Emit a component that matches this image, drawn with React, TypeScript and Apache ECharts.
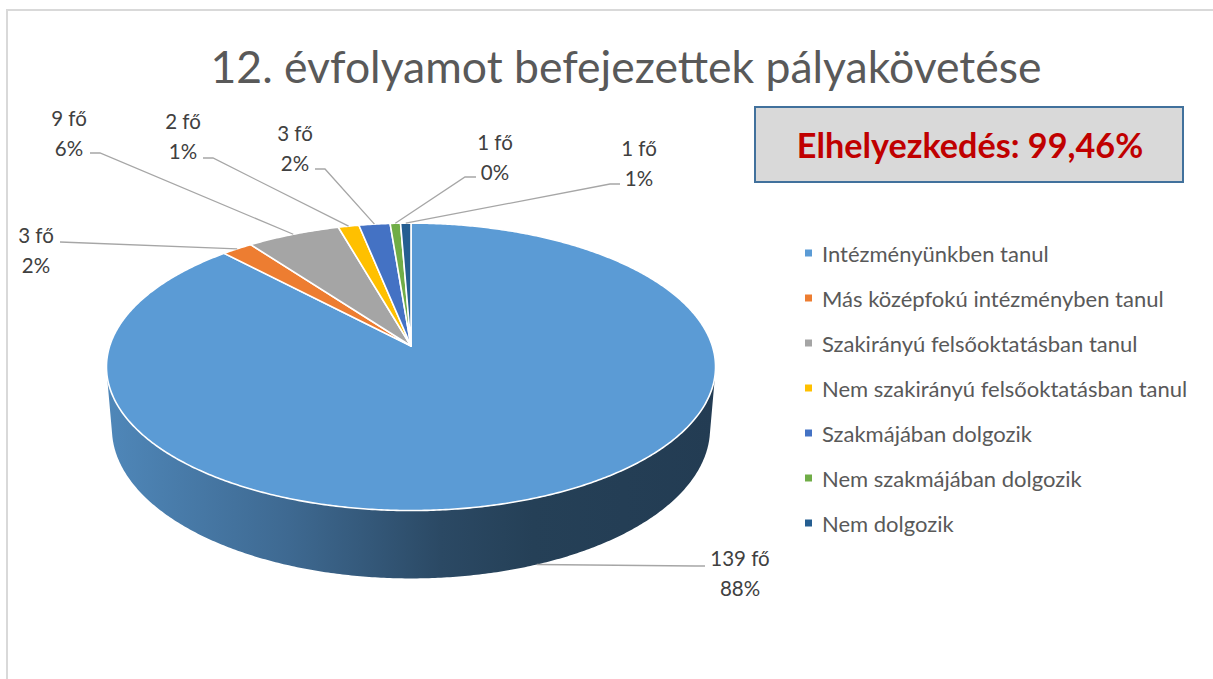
import React, { useEffect, useRef } from "react";
import * as echarts from "echarts";

// ---------- data ----------
const chartTitle = "12. évfolyamot befejezettek pályakövetése";
const categories = [
  "Intézményünkben tanul",
  "Más középfokú intézményben tanul",
  "Szakirányú felsőoktatásban tanul",
  "Nem szakirányú felsőoktatásban tanul",
  "Szakmájában dolgozik",
  "Nem szakmájában dolgozik",
  "Nem dolgozik",
];
const values = [139, 3, 9, 2, 3, 1, 1];
const percentLabels = ["88%", "2%", "6%", "1%", "2%", "0%", "1%"];
const unit = "fő";
const placementText = "Elhelyezkedés: 99,46%";

// ---------- styles / layout ----------
const colors = ["#5B9BD5", "#ED7D31", "#A5A5A5", "#FFC000", "#4472C4", "#70AD47", "#255E91"];
const FONT = "Lato, 'Open Sans', sans-serif";
// label block centre (x, y), leader attach point (lx, ly), elbow x
const labelLayout = [
  { x: 740, y: 573, lx: 705, ly: 566, ex: 695 },
  { x: 36, y: 250, lx: 60, ly: 242, ex: 60 },
  { x: 69, y: 133, lx: 90, ly: 153, ex: 100 },
  { x: 183, y: 136, lx: 203, ly: 158, ex: 213 },
  { x: 295, y: 148, lx: 315, ly: 169, ex: 325 },
  { x: 495, y: 157, lx: 476, ly: 177, ex: 465 },
  { x: 639, y: 163, lx: 620, ly: 184, ex: 610 },
];

// 3D projection of the pie
const CX = 411;
const CY = 346;
const F = 1838;
const D0 = 6.1;
const SIN = 0.467;
const COS = 0.884;
const H = 0.2335;
const Z_VIS = 1 / (D0 * COS);

function project(X: number, Y: number, Z: number): [number, number] {
  const d = D0 - (Z * COS + Y * SIN);
  return [CX + (F * X) / d, CY + (F * (Z * SIN - Y * COS)) / d];
}

function shade(hex: string, k: number) {
  const n = parseInt(hex.slice(1), 16);
  const r = Math.round(((n >> 16) & 255) * k);
  const g = Math.round(((n >> 8) & 255) * k);
  const b = Math.round((n & 255) * k);
  return `rgb(${r},${g},${b})`;
}

function sliceAngles() {
  const total = values.reduce((a, b) => a + b, 0);
  let acc = 0;
  return values.map((v) => {
    const a0 = (acc / total) * Math.PI * 2;
    acc += v;
    const a1 = (acc / total) * Math.PI * 2;
    return [a0, a1];
  });
}

function arcPoints(a0: number, a1: number, Y: number) {
  const pts: [number, number][] = [];
  const n = Math.max(2, Math.ceil((a1 - a0) / (Math.PI / 360)));
  for (let k = 0; k <= n; k++) {
    const t = a0 + ((a1 - a0) * k) / n;
    pts.push(project(Math.sin(t), Y, -Math.cos(t)));
  }
  return pts;
}

export default function App() {
  const ref = useRef<HTMLDivElement>(null);
  useEffect(() => {
    document.body.style.margin = "0";
    if (!ref.current) return;
    const chart = echarts.init(ref.current, undefined, { renderer: "svg" });
    const angles = sliceAngles();
    const visLo = Math.acos(-Z_VIS);
    const visHi = Math.PI * 2 - visLo;

    const sideSeries = categories.map((name, i) => ({
      type: "custom",
      name,
      coordinateSystem: "none",
      z: 1,
      silent: true,
      itemStyle: { color: colors[i] },
      data: [[values[i]]],
      renderItem: () => {
        const [a0, a1] = angles[i];
        const s0 = Math.max(a0, visLo);
        const s1 = Math.min(a1, visHi);
        if (s1 <= s0) return { type: "group", children: [] };
        const top = arcPoints(s0, s1, 0);
        const bot = arcPoints(s0, s1, -H).reverse();
        return {
          type: "polygon",
          shape: { points: top.concat(bot) },
          style: {
            fill: new echarts.graphic.LinearGradient(0, 0, 1, 0, [
              { offset: 0, color: shade(colors[i], 0.87) },
              { offset: 0.3, color: shade(colors[i], 0.68) },
              { offset: 0.55, color: shade(colors[i], 0.47) },
              { offset: 0.7, color: shade(colors[i], 0.41) },
              { offset: 1, color: shade(colors[i], 0.39) },
            ]),
            stroke: "none",
          },
        };
      },
    }));

    const topSeries = categories.map((name, i) => ({
      type: "custom",
      name,
      coordinateSystem: "none",
      z: 2,
      silent: true,
      itemStyle: { color: colors[i] },
      data: [[values[i]]],
      renderItem: () => {
        const [a0, a1] = angles[i];
        const pts = [project(0, 0, 0)].concat(arcPoints(a0, a1, 0));
        const m = (a0 + a1) / 2;
        const front = -Math.cos(m) > Z_VIS;
        const anchor = project(Math.sin(m), front ? -H : 0, -Math.cos(m));
        const L = labelLayout[i];
        return {
          type: "group",
          children: [
            {
              type: "polygon",
              shape: { points: pts },
              style: { fill: colors[i], stroke: "#ffffff", lineWidth: 1.6, lineJoin: "round" },
            },
            {
              type: "polyline",
              shape: { points: [anchor, [L.ex, L.ly], [L.lx, L.ly]] },
              style: { stroke: "#a6a6a6", lineWidth: 1.3, fill: "none" },
              z2: 5,
            },
            {
              type: "text",
              x: L.x,
              y: L.y,
              z2: 6,
              style: {
                text: `${values[i]} ${unit}\n${percentLabels[i]}`,
                fill: "#404040",
                fontSize: 20.5,
                fontFamily: FONT,
                lineHeight: 30,
                align: "center",
                verticalAlign: "middle",
                textAlign: "center",
                textVerticalAlign: "middle",
              },
            },
          ],
        };
      },
    }));

    const option: any = {
      animation: false,
      color: colors,
      legend: {
        data: categories,
        orient: "vertical",
        left: 805,
        top: 242,
        padding: 0,
        itemWidth: 7,
        itemHeight: 7,
        itemGap: 23,
        icon: "rect",
        selectedMode: false,
        textStyle: {
          fontSize: 22,
          lineHeight: 22,
          color: "#595959",
          fontFamily: FONT,
          padding: [0, 0, 0, 5],
        },
      },
      graphic: [
        {
          type: "rect",
          shape: { x: 7, y: 10, width: 1400, height: 900 },
          style: { fill: "none", stroke: "#d9d9d9", lineWidth: 2 },
          silent: true,
          z: -10,
        },
        {
          type: "text",
          x: 626,
          y: 65,
          style: {
            text: chartTitle,
            fill: "#595959",
            fontSize: 44.5,
            fontFamily: FONT,
            textAlign: "center",
            textVerticalAlign: "middle",
            align: "center",
            verticalAlign: "middle",
          },
        },
        {
          type: "rect",
          shape: { x: 755, y: 107, width: 428, height: 75 },
          style: { fill: "#d9d9d9", stroke: "#41719c", lineWidth: 2 },
        },
        {
          type: "text",
          x: 970,
          y: 144,
          style: {
            text: placementText,
            fill: "#c00000",
            fontSize: 34.2,
            fontWeight: "bold",
            fontFamily: FONT,
            textAlign: "center",
            textVerticalAlign: "middle",
            align: "center",
            verticalAlign: "middle",
          },
        },
      ],
      series: [...sideSeries, ...topSeries],
    };
    chart.setOption(option);
    return () => chart.dispose();
  }, []);
  return <div ref={ref} style={{ width: 1213, height: 679 }} />;
}
